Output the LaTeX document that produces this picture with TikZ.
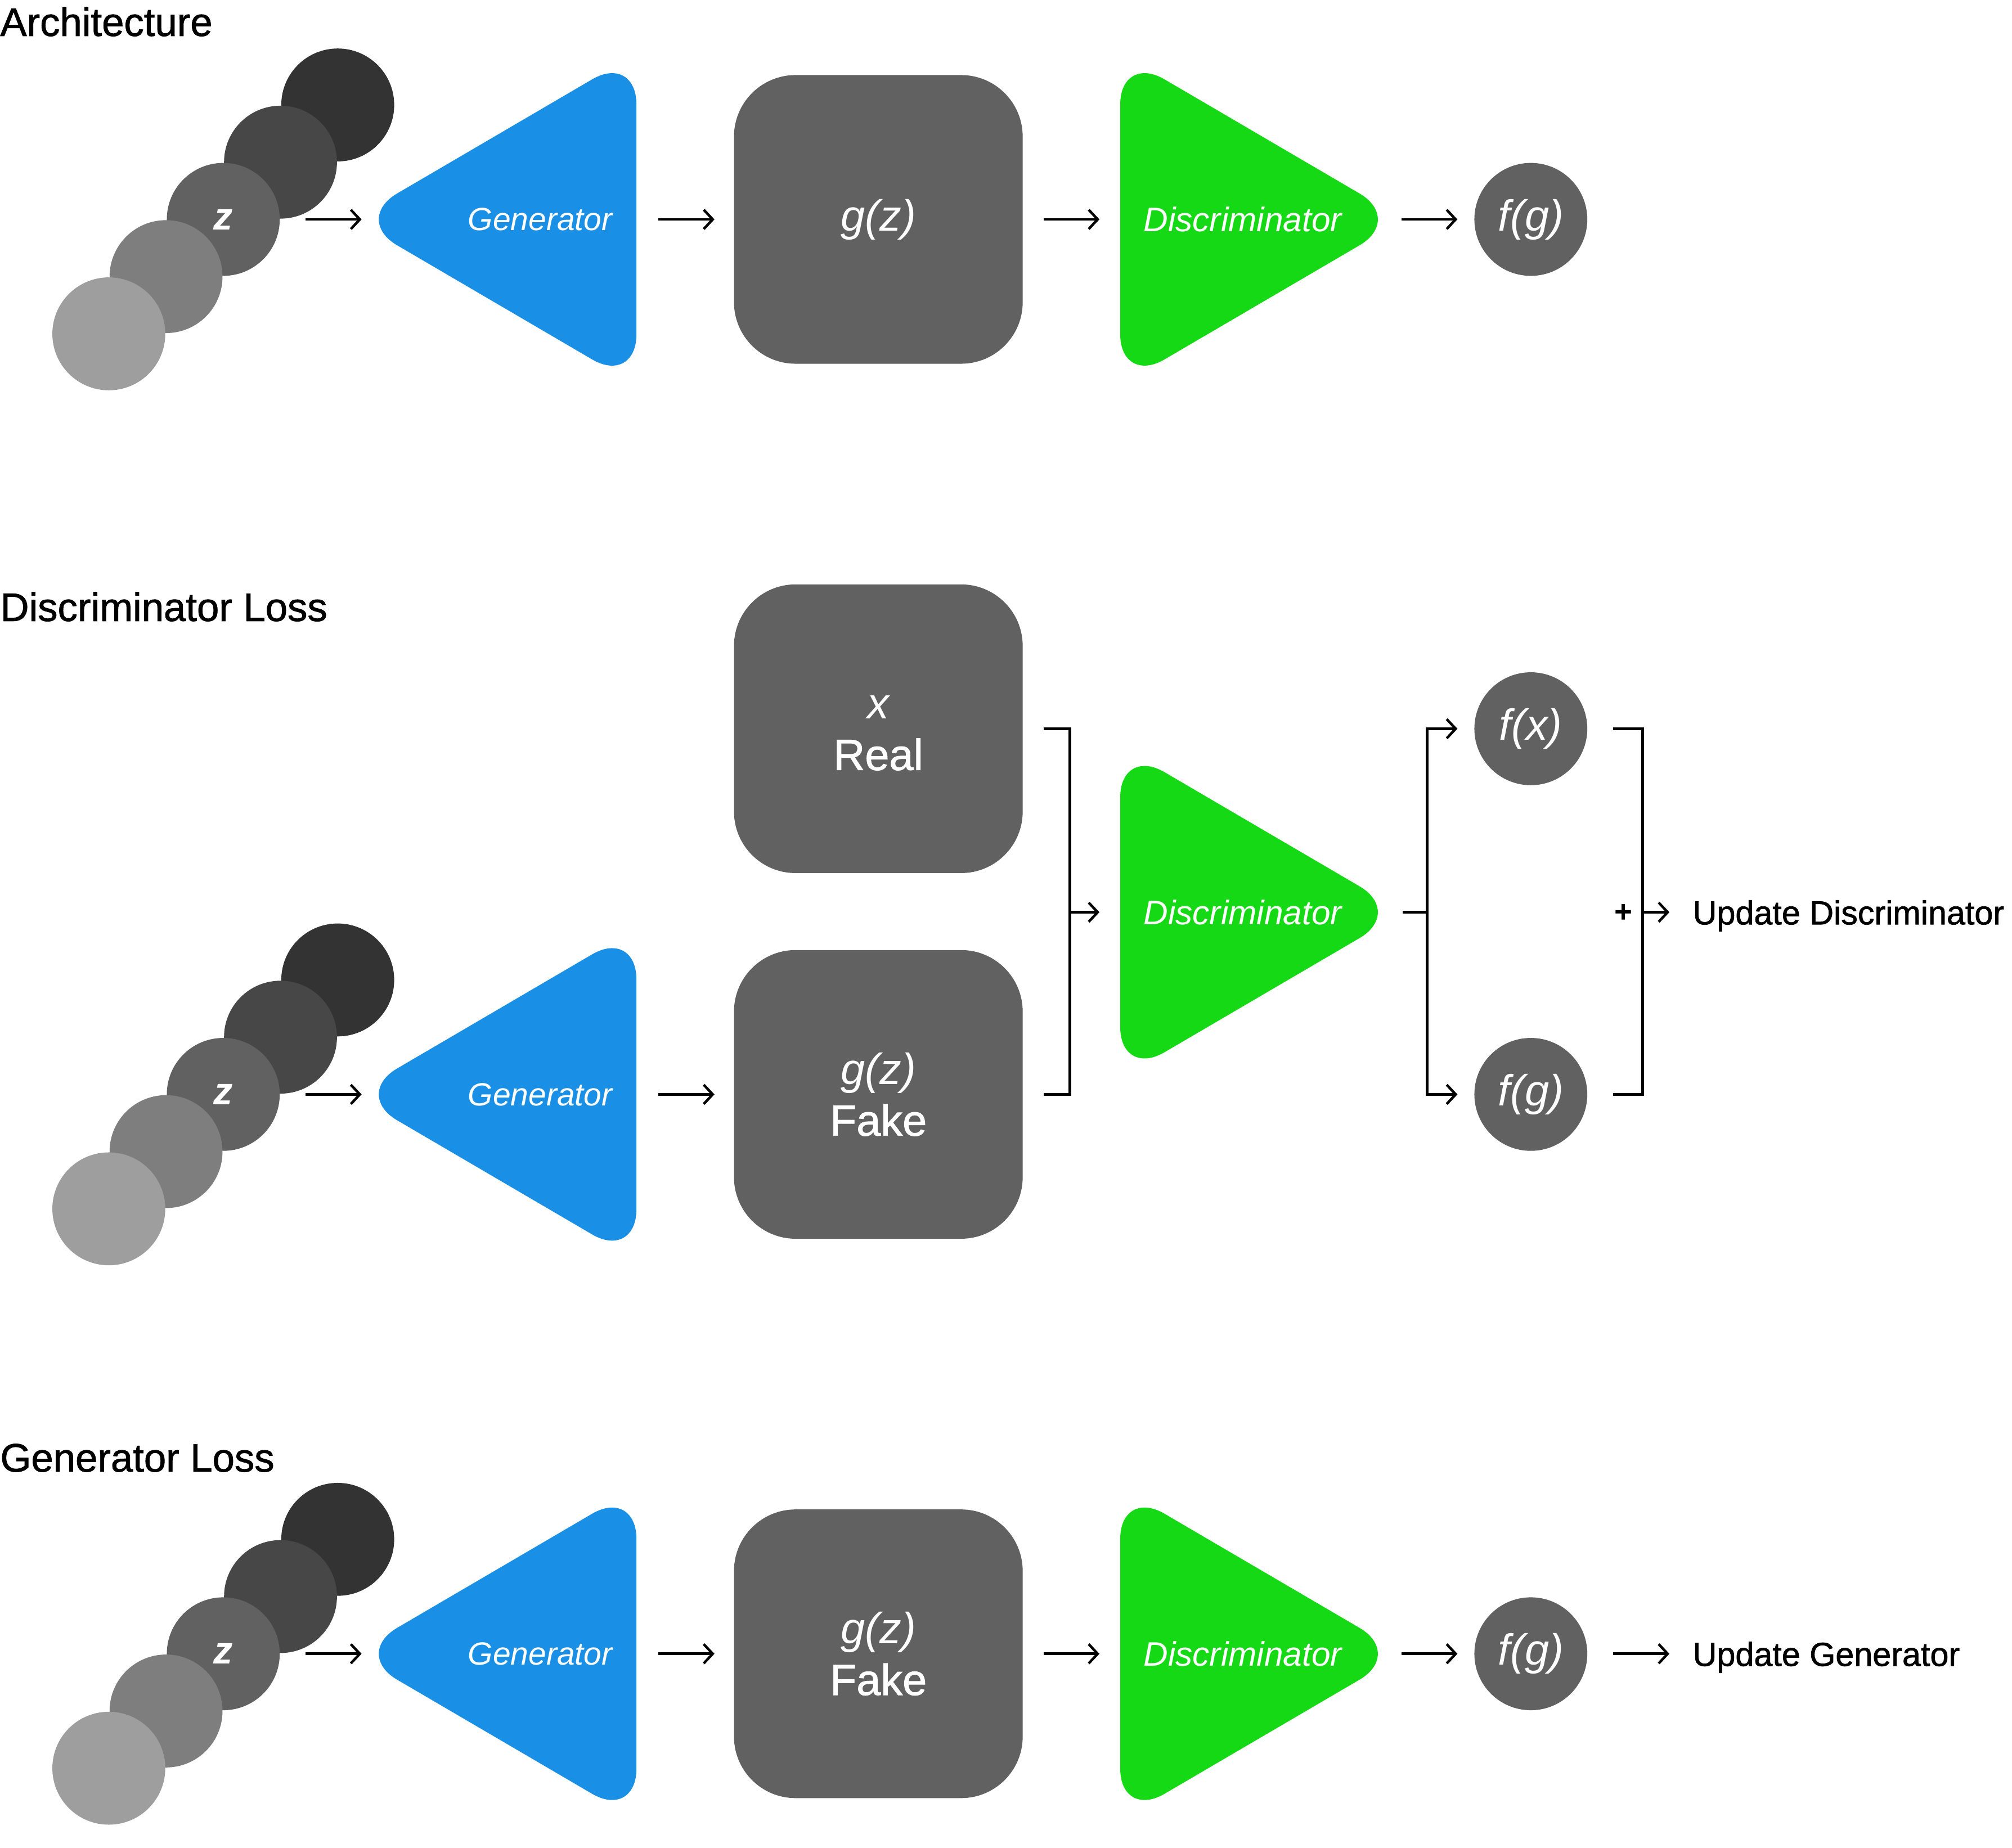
\documentclass[tikz,border=0pt]{standalone}
\usepackage{fontspec}
\setmainfont{Liberation Sans}
\newfontfamily\medfont[FakeBold=1.2]{Liberation Sans}
\usetikzlibrary{arrows.meta}
\definecolor{genblue}{HTML}{1A8FE6}
\definecolor{discgreen}{HTML}{14D914}
\definecolor{boxgray}{HTML}{616161}
\definecolor{zcA}{HTML}{333333}
\definecolor{zcB}{HTML}{474747}
\definecolor{zcC}{HTML}{616161}
\definecolor{zcD}{HTML}{7E7E7E}
\definecolor{zcE}{HTML}{9E9E9E}
\newcommand\LatStack[3]{%
  \node[lat,fill=zcA] (#1-a) at (#2+89.2,#3-89.2) {};
  \node[lat,fill=zcB] (#1-b) at (#2+44.6,#3-44.6) {};
  \node[lat,fill=zcC,ztext] (#1) at (#2,#3) {z};
  \node[lat,fill=zcD] (#1-d) at (#2-44.6,#3+44.6) {};
  \node[lat,fill=zcE] (#1-e) at (#2-89.2,#3+89.2) {};
}
% name, x of right edge, y centre
\newcommand\GenTri[3]{%
  \fill[genblue, rounded corners=40pt] (#2,#3-129.35) -- (#2-221,#3) -- (#2,#3+129.35) -- cycle;
  \node[triarea] (#1) at (#2-100.5,#3) {};
  \node[tritext] at (#2-75,#3) {Generator};
}
% name, x of left edge, y centre
\newcommand\DiscTri[3]{%
  \fill[discgreen, rounded corners=40pt] (#2,#3-129.35) -- (#2+221,#3) -- (#2,#3+129.35) -- cycle;
  \node[triarea] (#1) at (#2+100.5,#3) {};
  \node[tritext,font=\fontsize{26.5}{30}\selectfont\itshape] at (#2+95.5,#3) {Discriminator};
}
\begin{document}
\begin{tikzpicture}[x=1pt,y=-1pt,
  title/.style={anchor=base west, inner sep=0, font=\fontsize{31}{36}\medfont},
  lat/.style={circle, minimum size=88pt, inner sep=0},
  ztext/.style={text=white, font=\fontsize{30}{34}\selectfont\bfseries\itshape},
  triarea/.style={inner sep=0, minimum width=201pt, minimum height=225pt},
  tritext/.style={text=white, inner sep=0, font=\fontsize{25}{30}\selectfont\itshape},
  gbox/.style={fill=boxgray, rounded corners=48pt, minimum width=225pt, minimum height=225pt,
    inner sep=0, text=white, align=center, font=\fontsize{34}{40}\selectfont},
  outc/.style={circle, fill=boxgray, minimum size=88pt, inner sep=0, text=white,
    font=\fontsize{34}{40}\selectfont\itshape},
  arr/.style={line width=2pt, -{Straight Barb[length=7pt,width=15pt]}},
  ln/.style={line width=2pt},
  lbl/.style={anchor=base west, inner sep=0, font=\fontsize{26}{30}\medfont},
  plus/.style={inner sep=0, font=\fontsize{24}{28}\selectfont\bfseries}
]
\useasboundingbox (0,0) rectangle (1568,1440);

% ---------------- Architecture
\node[title] (t1) at (0,28) {Architecture};
\LatStack{zA}{174}{171}
\GenTri{genA}{496}{171}
\node[gbox] (gzA) at (684.5,171) {\itshape g(z)};
\DiscTri{disA}{873}{171}
\node[outc] (fgA) at (1193,171) {f(g)};
\draw[arr] ([xshift=20pt]zA.east) -- ([xshift=-13pt]genA.west);
\draw[arr] ([xshift=17pt]genA.east) -- ([xshift=-15pt]gzA.west);
\draw[arr] ([xshift=16pt]gzA.east) -- ([xshift=-16pt]disA.west);
\draw[arr] ([xshift=18pt]disA.east) -- ([xshift=-13pt]fgA.west);

% ---------------- Discriminator Loss
\node[title] (t2) at (0,484) {Discriminator Loss};
\node[gbox] (real) at (684.5,568) {{\itshape\vphantom{g(z)}x}\\{\medfont Real}};
\LatStack{zB}{174}{853}
\GenTri{genB}{496}{853}
\node[gbox] (fakeB) at (684.5,853) {{\itshape g(z)}\\{\medfont Fake}};
\DiscTri{disB}{873}{711}
\node[outc] (fx) at (1193,568) {f(x)};
\node[outc] (fgB) at (1193,853) {f(g)};
\draw[arr] ([xshift=20pt]zB.east) -- ([xshift=-13pt]genB.west);
\draw[arr] ([xshift=17pt]genB.east) -- ([xshift=-15pt]fakeB.west);
\coordinate (jin) at ([xshift=-39pt]disB.west);
\draw[ln] ([xshift=16pt]real.east) -| (jin) |- ([xshift=16pt]fakeB.east);
\draw[arr] (jin) -- ([xshift=-16pt]disB.west);
\coordinate (jout) at ([xshift=38pt]disB.east);
\draw[ln] ([xshift=19pt]disB.east) -- (jout);
\draw[arr] (jout) |- ([xshift=-13pt]fx.west);
\draw[arr] (jout) |- ([xshift=-13pt]fgB.west);
\coordinate (jsum) at ([xshift=43pt]fx.east |- disB.east);
\draw[ln] ([xshift=20pt]fx.east) -| (jsum) |- ([xshift=20pt]fgB.east);
\node[plus] (pl) at (1265,712) {+};
\node[lbl] (updD) at (1319,720.5) {Update Discriminator};
\draw[arr] (jsum) -- ([xshift=-18pt]updD.west |- jsum);

% ---------------- Generator Loss
\node[title] (t3) at (0,1147) {Generator Loss};
\LatStack{zC}{174}{1289}
\GenTri{genC}{496}{1289}
\node[gbox] (fakeC) at (684.5,1289) {{\itshape g(z)}\\{\medfont Fake}};
\DiscTri{disC}{873}{1289}
\node[outc] (fgC) at (1193,1289) {f(g)};
\node[lbl] (updG) at (1319,1298.5) {Update Generator};
\draw[arr] ([xshift=20pt]zC.east) -- ([xshift=-13pt]genC.west);
\draw[arr] ([xshift=17pt]genC.east) -- ([xshift=-15pt]fakeC.west);
\draw[arr] ([xshift=16pt]fakeC.east) -- ([xshift=-16pt]disC.west);
\draw[arr] ([xshift=18pt]disC.east) -- ([xshift=-13pt]fgC.west);
\draw[arr] ([xshift=20pt]fgC.east) -- ([xshift=-18pt]updG.west |- fgC.east);
\end{tikzpicture}
\end{document}
